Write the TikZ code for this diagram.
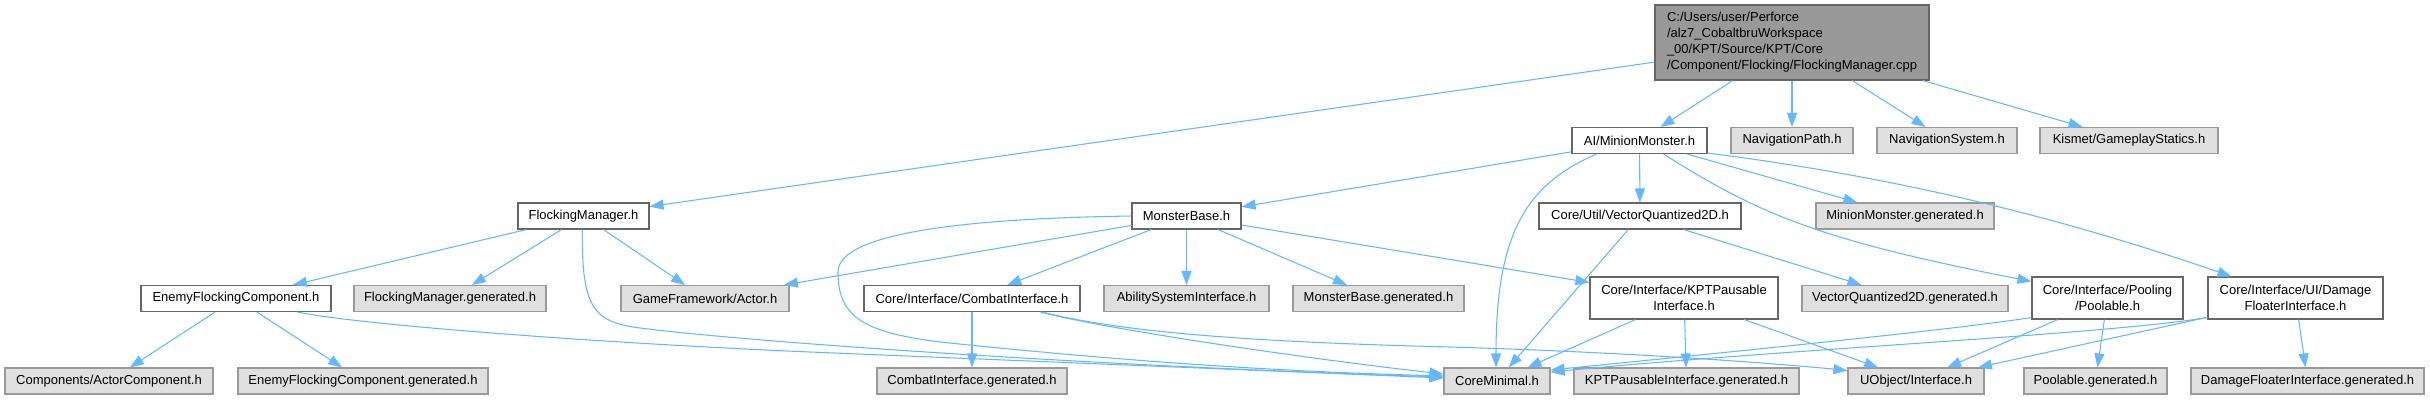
\documentclass[tikz,border=0pt]{standalone}
\usepackage{fontspec}
\setmainfont{Liberation Sans}
\usetikzlibrary{arrows.meta,calc}
\definecolor{edgec}{HTML}{63B8FF}
\definecolor{grayfill}{HTML}{E0E0E0}
\definecolor{grayline}{HTML}{999999}
\definecolor{darkline}{HTML}{666666}
\definecolor{rootfill}{HTML}{999999}
\tikzset{
  box/.style={draw, line width=0.8pt, inner sep=0pt, minimum height=26*0.75pt,
    font=\fontsize{9.75}{12}\selectfont, align=center},
  wbox/.style={box, fill=white, draw=darkline},
  gbox/.style={box, fill=grayfill, draw=grayline},
  rbox/.style={box, fill=rootfill, draw=darkline, align=left},
  bw/.style={minimum width=#1*0.75pt},
  bh/.style={minimum height=#1*0.75pt},
  conn/.style={draw=edgec, line width=0.8pt, -{Triangle[length=10.5pt,width=7.5pt]}},
}
\begin{document}
\begin{tikzpicture}[x=0.75pt,y=-0.75pt]
\useasboundingbox (0,0) rectangle (2430,400);
% root
\node[rbox, bw=274, bh=75] (root) at (1792,42.5) {C:/Users/user/Perforce\\/alz7\_CobaltbruWorkspace\\\_00/KPT/Source/KPT/Core\\/Component/Flocking/FlockingManager.cpp};
% row 2
\node[wbox, bw=135] (mm) at (1639.5,140.5) {AI/MinionMonster.h};
\node[gbox, bw=122] (navpath) at (1792,140.5) {NavigationPath.h};
\node[gbox, bw=140] (navsys) at (1947,140.5) {NavigationSystem.h};
\node[gbox, bw=178] (kismet) at (2129,140.5) {Kismet/GameplayStatics.h};
% row 3
\node[wbox, bw=131] (fm) at (583.5,216) {FlockingManager.h};
\node[wbox, bw=109] (mb) at (1186.5,216) {MonsterBase.h};
\node[wbox, bw=202] (vq) at (1640,216) {Core/Util/VectorQuantized2D.h};
\node[gbox, bw=178] (mmgen) at (1905,216) {MinionMonster.generated.h};
% row 4
\node[wbox, bw=190] (efc) at (236,298.5) {EnemyFlockingComponent.h};
\node[gbox, bw=192] (fmgen) at (450,298.5) {FlockingManager.generated.h};
\node[gbox, bw=168] (actor) at (705,298.5) {GameFramework/Actor.h};
\node[wbox, bw=216] (combat) at (972,298.5) {Core/Interface/CombatInterface.h};
\node[gbox, bw=165] (asi) at (1186.5,298.5) {AbilitySystemInterface.h};
\node[gbox, bw=171] (mbgen) at (1378.5,298.5) {MonsterBase.generated.h};
\node[wbox, bw=188, bh=42] (kpt) at (1684,298) {Core/Interface/KPTPausable\\Interface.h};
\node[gbox, bw=206] (vqgen) at (1905,298.5) {VectorQuantized2D.generated.h};
\node[wbox, bw=151, bh=42] (pool) at (2107.5,298) {Core/Interface/Pooling\\/Poolable.h};
\node[wbox, bw=175, bh=42] (dmg) at (2295.5,298) {Core/Interface/UI/Damage\\FloaterInterface.h};
% row 5
\node[gbox, bw=208] (ac) at (109,381) {Components/ActorComponent.h};
\node[gbox, bw=250] (efcgen) at (363,381) {EnemyFlockingComponent.generated.h};
\node[gbox, bw=190] (cigen) at (972,381) {CombatInterface.generated.h};
\node[gbox, bw=106] (cm) at (1497,381) {CoreMinimal.h};
\node[gbox, bw=225] (kptgen) at (1686.5,381) {KPTPausableInterface.generated.h};
\node[gbox, bw=136] (uobj) at (1916,381) {UObject/Interface.h};
\node[gbox, bw=143] (poolgen) at (2095.5,381) {Poolable.generated.h};
\node[gbox, bw=233] (dmggen) at (2307.5,381) {DamageFloaterInterface.generated.h};
% root edges
\draw[conn] (root) -- (fm);
\draw[conn] (root) -- (mm);
\draw[conn] (root) -- (navpath);
\draw[conn] (root) -- (navsys);
\draw[conn] (root) -- (kismet);
% FlockingManager.h
\draw[conn] (fm) -- (efc);
\draw[conn] (fm) -- (fmgen);
\draw[conn] (fm) -- (actor);
\draw[conn] ($(fm.south)+(-1,0)$) .. controls (581,310) and (595,322) .. (640,328)
  .. controls (760,343) and (1100,366) .. ($(cm.west)+(0,-4)$);
% EnemyFlockingComponent.h
\draw[conn] (efc) -- (ac);
\draw[conn] (efc) -- (efcgen);
\draw[conn] ($(efc.south east)+(-34,0)$) .. controls (360,325) and (600,343) .. (810,352)
  .. controls (1100,364) and (1300,372) .. ($(cm.west)+(0,-3)$);
% AI/MinionMonster.h
\draw[conn] (mm) -- (mb);
\draw[conn] ($(mm.south west)+(25,0)$) .. controls (1525,185) and (1496,235) .. ($(cm.north)+(-1,0)$);
\draw[conn] (mm) -- (vq);
\draw[conn] (mm) -- (mmgen);
\draw[conn] ($(mm.south)+(24,0)$) .. controls (1760,215) and (1820,240) .. ($(pool.north west)+(0,5)$);
\draw[conn] ($(mm.south east)+(0,-1)$) .. controls (1920,180) and (2082,225) .. ($(dmg.north west)+(24,0)$);
% MonsterBase.h
\draw[conn] (mb) -- (actor);
\draw[conn] (mb.west) .. controls (1000,218) and (838,228) .. (838,272)
  .. controls (838,315) and (860,332) .. (940,342)
  .. controls (1150,364) and (1300,372) .. ($(cm.west)+(0,-5)$);
\draw[conn] (mb) -- (combat);
\draw[conn] (mb) -- (asi);
\draw[conn] (mb) -- (mbgen);
\draw[conn] (mb) -- (kpt);
% VectorQuantized2D.h
\draw[conn] (vq) -- (cm);
\draw[conn] (vq) -- (vqgen);
% CombatInterface.h
\draw[conn] (combat) -- (cigen);
\draw[conn] ($(combat.south east)+(-40,0)$) .. controls (1100,328) and (1300,358) .. ($(cm.west)+(0,-7)$);
\draw[conn] ($(combat.south east)+(-38,0)$) .. controls (1120,332) and (1250,342) .. (1450,347)
  .. controls (1620,352) and (1760,362) .. ($(uobj.north west)+(0,3)$);
% KPTPausable
\draw[conn] (kpt) -- (cm);
\draw[conn] (kpt) -- (kptgen);
\draw[conn] (kpt) -- (uobj);
% Poolable
\draw[conn] ($(pool.south west)+(0,-2)$) .. controls (1950,330) and (1750,350) .. ($(cm.east)+(0,-11)$);
\draw[conn] (pool) -- (uobj);
\draw[conn] (pool) -- (poolgen);
% DamageFloater
\draw[conn] ($(dmg.south west)+(0,-2)$) .. controls (2100,335) and (1800,348) .. ($(cm.east)+(0,-9)$);
\draw[conn] (dmg) -- (uobj);
\draw[conn] (dmg) -- (dmggen);
\end{tikzpicture}
\end{document}
